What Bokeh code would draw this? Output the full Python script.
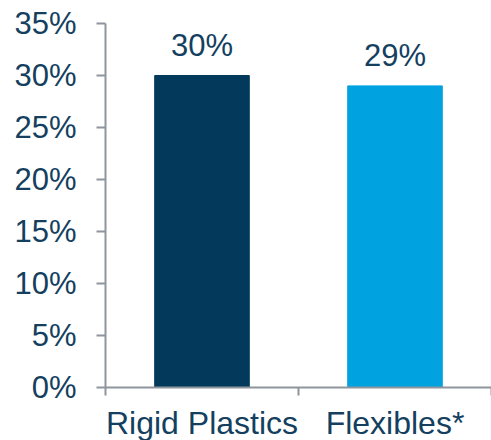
from bokeh.plotting import figure
from bokeh.models import Range1d, FixedTicker, ColumnDataSource
from bokeh.core.properties import value
from bokeh.embed import file_html
from bokeh.resources import INLINE

# Data
categories = ["Rigid Plastics", "Flexibles*"]
shares = [30, 29]
bar_colors = ["#033A5C", "#00A2E0"]
y_ticks = [0, 5, 10, 15, 20, 25, 30, 35]

TEXT = "#143F5F"
AXIS = "#8E959D"
FONT = "Liberation Sans"

centers = [i + 0.5 for i in range(len(categories))]
edges = [float(i) for i in range(len(categories) + 1)]

src = ColumnDataSource(dict(
    x=centers,
    top=shares,
    color=bar_colors,
    label=[f"{v}%" for v in shares],
))

p = figure(
    frame_width=386, frame_height=364,
    x_range=Range1d(0, len(categories)), y_range=Range1d(0, 35),
    output_backend="svg", toolbar_location=None,
    min_border_left=105, min_border_right=0,
    min_border_top=23, min_border_bottom=53,
)
p.outline_line_color = None
p.xgrid.visible = False
p.ygrid.visible = False
p.background_fill_color = "white"
p.border_fill_color = "white"

p.vbar(x="x", top="top", bottom=0, width=0.49, color="color", source=src)

p.text(x="x", y="top", text="label", source=src,
       text_align="center", text_baseline="alphabetic", y_offset=-30,
       text_font=value(FONT), text_font_size="31px", text_color=TEXT)

# y axis
ya = p.yaxis[0]
ya.ticker = FixedTicker(ticks=y_ticks)
ya.major_label_overrides = {t: f"{t}%" for t in y_ticks}
ya.axis_line_color = AXIS
ya.axis_line_width = 2
ya.major_tick_line_color = AXIS
ya.major_tick_line_width = 2
ya.major_tick_in = 0
ya.major_tick_out = 9
ya.minor_tick_line_color = None
ya.major_label_standoff = 20
ya.major_label_text_font = FONT
ya.major_label_text_font_size = "31px"
ya.major_label_text_color = TEXT

# x axis: labels at category centres, tick marks at category edges
xa = p.xaxis[0]
xa.ticker = FixedTicker(ticks=centers, minor_ticks=edges)
xa.major_label_overrides = {c: n for c, n in zip(centers, categories)}
xa.axis_line_color = AXIS
xa.axis_line_width = 2
xa.major_tick_line_color = None
xa.major_tick_in = 0
xa.major_tick_out = 0
xa.minor_tick_line_color = AXIS
xa.minor_tick_line_width = 2
xa.minor_tick_in = 0
xa.minor_tick_out = 8
xa.major_label_standoff = 9
xa.major_label_text_font = FONT
xa.major_label_text_font_size = "32px"
xa.major_label_text_color = TEXT

open("out.html", "w").write(file_html(p, INLINE))
